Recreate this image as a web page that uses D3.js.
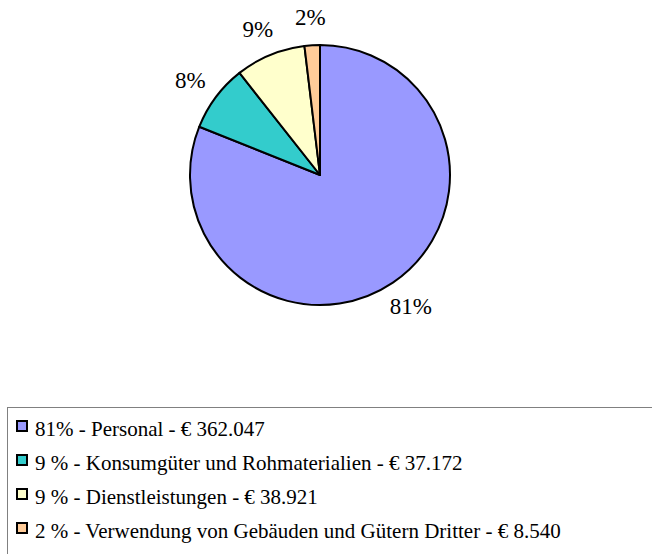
<!DOCTYPE html>
<html>
<head>
<meta charset="utf-8">
<script src="https://cdn.jsdelivr.net/npm/d3@7"></script>
<style>
  body { margin: 0; background: #fff; }
  svg { display: block; }
</style>
</head>
<body>
<script>
// chart data
const categories = ["Personal", "Konsumgüter und Rohmaterialien", "Dienstleistungen", "Verwendung von Gebäuden und Gütern Dritter"];
const amounts = [362047, 37172, 38921, 8540];
const amountLabels = ["€ 362.047", "€ 37.172", "€ 38.921", "€ 8.540"];
const legendPercents = ["81%", "9 %", "9 %", "2 %"];
const colors = ["#9999FF", "#33CCCC", "#FFFFCC", "#FFCC99"];

const width = 652, height = 554;
const cx = 320, cy = 175, radius = 130;
const labelRadius = 152;
const serif = "Liberation Serif, 'Times New Roman', serif";

const svg = d3.select("body").append("svg")
    .attr("width", width)
    .attr("height", height);

const pie = d3.pie().sort(null).value(d => d)(amounts);
const arc = d3.arc().innerRadius(0).outerRadius(radius);
const total = d3.sum(amounts);

const pieGroup = svg.append("g")
    .attr("transform", `translate(${cx},${cy})`);

pieGroup.selectAll("path")
    .data(pie)
    .join("path")
    .attr("d", arc)
    .attr("fill", (d, i) => colors[i])
    .attr("stroke", "#000")
    .attr("stroke-width", 2)
    .attr("stroke-linejoin", "round");

// percentage labels outside the slices
const labelArc = d3.arc().innerRadius(labelRadius).outerRadius(labelRadius);
pieGroup.selectAll("text.pct")
    .data(pie)
    .join("text")
    .attr("class", "pct")
    .style("font-family", serif)
    .style("font-size", "23px")
    .attr("text-anchor", "middle")
    .attr("dy", "0.35em")
    .attr("transform", d => {
        const [x, y] = labelArc.centroid(d);
        const a = (d.startAngle + d.endAngle) / 2;
        return `translate(${x + Math.sin(a) * 10},${y - Math.cos(a) * 6})`;
    })
    .text(d => Math.round(d.value / total * 100) + "%");

// legend
const legendTop = 408, rowH = 34;
const legend = svg.append("g");

legend.append("rect")
    .attr("x", 7.5)
    .attr("y", legendTop - 0.5)
    .attr("width", width + 10)
    .attr("height", 200)
    .attr("fill", "#fff")
    .attr("stroke", "#808080")
    .attr("stroke-width", 1);

const rows = legend.selectAll("g.row")
    .data(categories)
    .join("g")
    .attr("class", "row")
    .attr("transform", (d, i) => `translate(0,${legendTop + 12 + i * rowH})`);

rows.append("rect")
    .attr("x", 17)
    .attr("y", 1)
    .attr("width", 10)
    .attr("height", 10)
    .attr("fill", (d, i) => colors[i])
    .attr("stroke", "#000")
    .attr("stroke-width", 2);

rows.append("text")
    .attr("x", 35)
    .attr("y", 16)
    .style("font-family", serif)
    .style("font-size", "21px")
    .text((d, i) => `${legendPercents[i]} - ${d} - ${amountLabels[i]}`);
</script>
</body>
</html>
